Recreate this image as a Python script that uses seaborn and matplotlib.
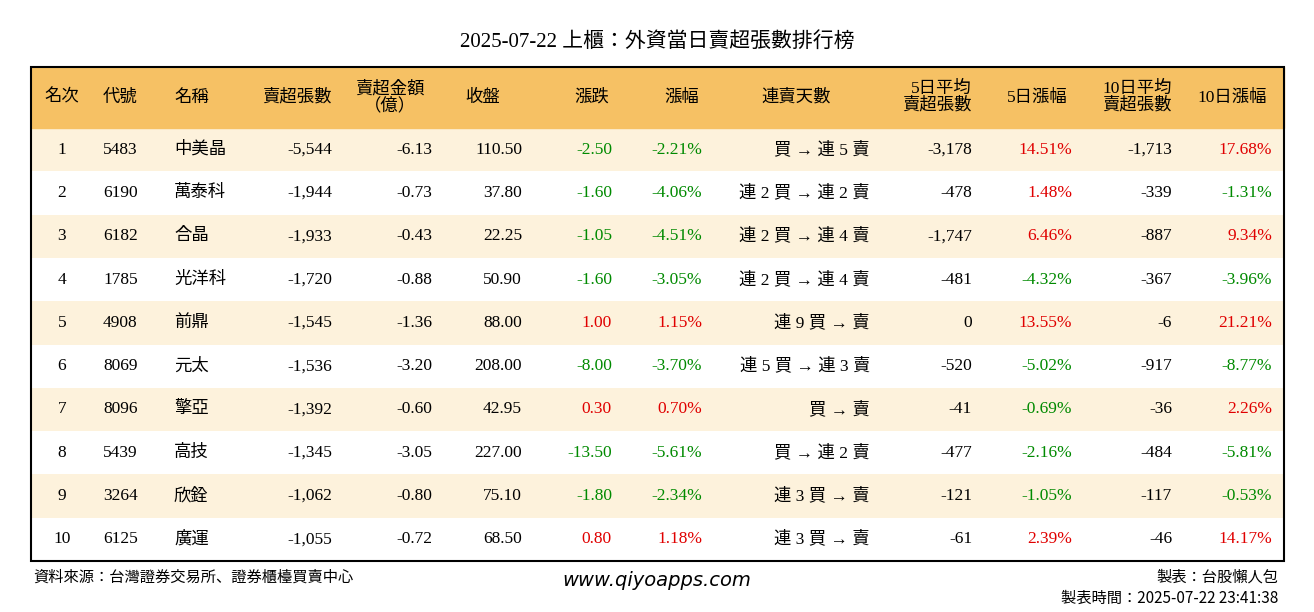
import numpy as np
import matplotlib.pyplot as plt
import seaborn as sns
from matplotlib.colors import ListedColormap

CJK = "Noto Sans CJK JP"
plt.rcParams["font.family"] = ["Liberation Serif", CJK]

title = "2025-07-22 上櫃：外資當日賣超張數排行榜"
rank = ["1", "2", "3", "4", "5", "6", "7", "8", "9", "10"]
codes = ["5483", "6190", "6182", "1785", "4908", "8069", "8096", "5439", "3264", "6125"]
names = ["中美晶", "萬泰科", "合晶", "光洋科", "前鼎", "元太", "擎亞", "高技", "欣銓", "廣運"]
sell_lots = [-5544, -1944, -1933, -1720, -1545, -1536, -1392, -1345, -1062, -1055]
sell_amt = [-6.13, -0.73, -0.43, -0.88, -1.36, -3.20, -0.60, -3.05, -0.80, -0.72]
close = [110.50, 37.80, 22.25, 50.90, 88.00, 208.00, 42.95, 227.00, 75.10, 68.50]
change = [-2.50, -1.60, -1.05, -1.60, 1.00, -8.00, 0.30, -13.50, -1.80, 0.80]
pct = [-2.21, -4.06, -4.51, -3.05, 1.15, -3.70, 0.70, -5.61, -2.34, 1.18]
streak = ["買 → 連 5 賣", "連 2 買 → 連 2 賣", "連 2 買 → 連 4 賣", "連 2 買 → 連 4 賣",
          "連 9 買 → 賣", "連 5 買 → 連 3 賣", "買 → 賣", "買 → 連 2 賣",
          "連 3 買 → 賣", "連 3 買 → 賣"]
avg5 = [-3178, -478, -1747, -481, 0, -520, -41, -477, -121, -61]
pct5 = [14.51, 1.48, 6.46, -4.32, 13.55, -5.02, -0.69, -2.16, -1.05, 2.39]
avg10 = [-1713, -339, -887, -367, -6, -917, -36, -484, -117, -46]
pct10 = [17.68, -1.31, 9.34, -3.96, 21.21, -8.77, 2.26, -5.81, -0.53, 14.17]

W, H = 1314, 612
L, R, T, HB, B = 31, 1284, 67, 128, 561
RED, GREEN = "#e00000", "#008a00"

fig = plt.figure(figsize=(W / 100, H / 100), dpi=100)
ax = fig.add_axes([0, 0, 1, 1])
ax.set_xlim(0, W)
ax.set_ylim(H, 0)
ax.axis("off")

# row stripes through seaborn heatmap
hax = fig.add_axes([L / W, 1 - B / H, (R - L) / W, (B - HB) / H])
stripes = np.array([[i % 2] for i in range(10)])
sns.heatmap(stripes, ax=hax, cmap=ListedColormap(["#fdf2dc", "#ffffff"]), cbar=False,
            xticklabels=False, yticklabels=False)
hax.set_zorder(0)
ax.set_zorder(1)
ax.patch.set_alpha(0)

ax.add_patch(plt.Rectangle((L, T), R - L, HB - T, color="#f6c164", zorder=1))
ax.add_patch(plt.Rectangle((L, T), R - L, B - T, fill=False, ec="black", lw=1.5, zorder=3))

ax.text(W / 2, 42, title, ha="center", va="center", fontsize=15)

fs = 12.5
hy = (T + HB) / 2
headers = [(62, "名次", "center"), (103, "代號", "left"), (174, "名稱", "left"),
           (332, "賣超張數", "right"), (390, "賣超金額\n（億）", "center"),
           (500, "收盤", "right"), (592, "漲跌", "center"), (682, "漲幅", "center"),
           (796, "連賣天數", "center"), (972, "5日平均\n賣超張數", "right"),
           (1037, "5日漲幅", "center"), (1172, "10日平均\n賣超張數", "right"),
           (1232, "10日漲幅", "center")]
for x, s, ha in headers:
    ax.text(x, hy, s, ha=ha, va="center", fontsize=fs, linespacing=1.0)


def col(v):
    return RED if v > 0 else (GREEN if v < 0 else "black")


rh = (B - HB) / 10
for i in range(10):
    y = HB + rh * (i + 0.5)
    ax.text(62, y, rank[i], ha="center", va="center", fontsize=fs)
    ax.text(103, y, codes[i], ha="left", va="center", fontsize=fs)
    ax.text(174, y, names[i], ha="left", va="center", fontsize=fs)
    ax.text(332, y, f"{sell_lots[i]:,}", ha="right", va="center", fontsize=fs)
    ax.text(432, y, f"{sell_amt[i]:.2f}", ha="right", va="center", fontsize=fs)
    ax.text(522, y, f"{close[i]:.2f}", ha="right", va="center", fontsize=fs)
    ax.text(612, y, f"{change[i]:.2f}", ha="right", va="center", fontsize=fs, color=col(change[i]))
    ax.text(702, y, f"{pct[i]:.2f}%", ha="right", va="center", fontsize=fs, color=col(pct[i]))
    ax.text(870, y, streak[i], ha="right", va="center", fontsize=fs)
    ax.text(972, y, f"{avg5[i]:,}", ha="right", va="center", fontsize=fs)
    ax.text(1072, y, f"{pct5[i]:.2f}%", ha="right", va="center", fontsize=fs, color=col(pct5[i]))
    ax.text(1172, y, f"{avg10[i]:,}", ha="right", va="center", fontsize=fs)
    ax.text(1272, y, f"{pct10[i]:.2f}%", ha="right", va="center", fontsize=fs, color=col(pct10[i]))

ax.text(33, 577, "資料來源：台灣證券交易所、證券櫃檯買賣中心", ha="left", va="center",
        fontsize=11, family=CJK)
ax.text(657, 580, "www.qiyoapps.com", ha="center", va="center", fontsize=14,
        family="DejaVu Sans", style="italic")
ax.text(1278, 577, "製表：台股懶人包", ha="right", va="center", fontsize=11, family=CJK)
ax.text(1278, 598, "製表時間：2025-07-22 23:41:38", ha="right", va="center", fontsize=11,
        family=CJK)

fig.savefig("out.png", dpi=100, facecolor="white")
